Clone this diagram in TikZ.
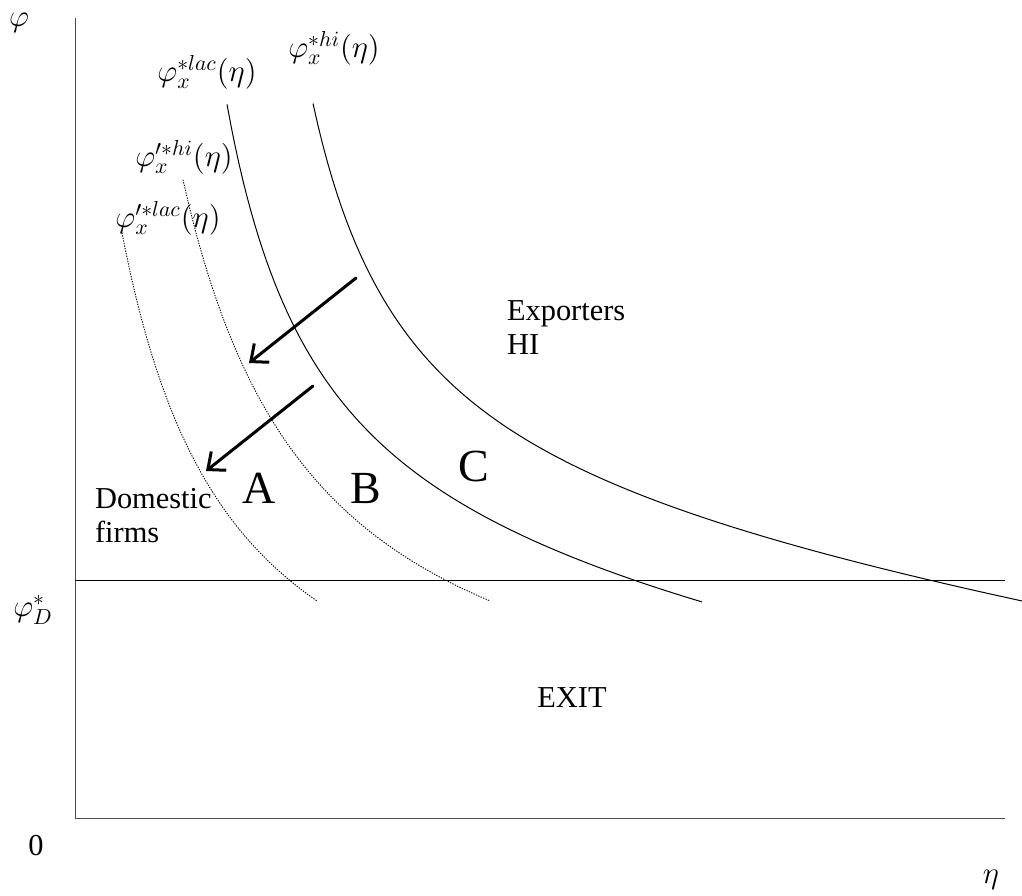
\RequirePackage{fix-cm}
\documentclass[tikz,border=0pt]{standalone}
\usepackage{fontspec}
\setmainfont{Liberation Serif}
\usetikzlibrary{arrows.meta}

\begin{document}
\begin{tikzpicture}[x=0.5pt, y=-0.5pt, >={Straight Barb[length=7pt,width=12pt]},
    txt/.style={font=\fontsize{15.2}{17}\selectfont},
    mth/.style={font=\fontsize{15.5}{17}\selectfont},
    big/.style={font=\fontsize{23}{25}\selectfont},
    curve/.style={line width=0.5pt},
    newcurve/.style={line width=0.45pt, dash pattern=on 0.65pt off 0.65pt},
    movearrow/.style={->, line width=1.5pt, line cap=round}]
\useasboundingbox (0,0) rectangle (1022,895);
% axes and cut-off
\draw[line width=0.5pt, black!70] (75,18) -- (75,818) -- (1005,818);
\draw[line width=0.5pt] (75,580) -- (1005,580);
\node[mth] (phi) at (19,23) {$\varphi$};
\node[mth] (eta) at (991,880) {$\eta$};
\node[txt] (zero) at (36,846) {0};
\node[mth] (phiD) at (33,610) {$\varphi_D^*$};
% old cut-offs
\draw[curve, domain=227:702, samples=120]
    plot (\x, {577.8 + 0.15404*\x - 477.67/(0.01*(\x-133))});
\draw[curve, domain=313:1022, samples=150]
    plot (\x, {503.1 + 0.1495*\x - 444/(0.01*(\x-213.5))});
% new cut-offs
\draw[newcurve, domain=183:490, samples=100]
    plot (\x, {787.2 - 824.55/(0.01*(\x-47.2))});
\draw[newcurve, domain=122:317, samples=100]
    plot (\x, {811.9 - 646.82/(0.01*(\x-10.26))});
\node[mth] (lac) at (207,72) {$\varphi_x^{*lac}(\eta)$};
\node[mth] (hi) at (334,48) {$\varphi_x^{*hi}(\eta)$};
\node[mth] (nhi) at (184,157) {$\varphi_x^{\prime *hi}(\eta)$};
\node[mth] (nlac) at (168,218) {$\varphi_x^{\prime *lac}(\eta)$};
% shifts
\coordinate (s1) at (356,278);
\coordinate (e1) at (249,363);
\coordinate (s2) at (313,386);
\coordinate (e2) at (206,471);
\draw[movearrow] (s1) -- (e1);
\draw[movearrow] (s2) -- (e2);
% regions
\node[big] (A) at (259,488) {A};
\node[big] (B) at (366,488) {B};
\node[big] (C) at (474,466) {C};
\node[txt, anchor=west, align=left] (exp) at (500,328) {Exporters\\HI};
\node[txt, anchor=west, align=left] (dom) at (88,516) {Domestic\\firms};
\node[txt] (exit) at (572,698) {EXIT};
\end{tikzpicture}
\end{document}
